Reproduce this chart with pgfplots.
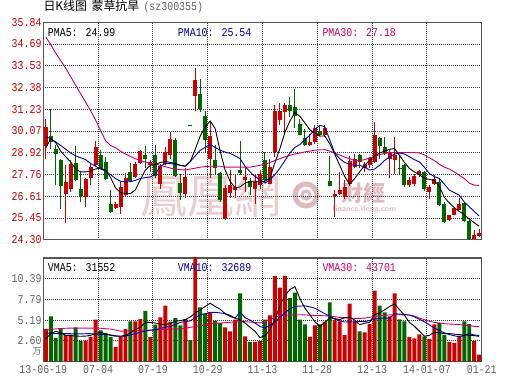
\documentclass[border=0pt]{standalone}
\usepackage{pgfplots}
\pgfplotsset{compat=1.18}
\usepackage{pgfplotstable}
\usepackage{fontspec}
\newfontfamily\mono[FakeStretch=0.83]{Liberation Mono}
\newfontfamily\cjk{Noto Sans CJK SC}
\newcommand\lab{\mono\fontsize{12}{12}\selectfont}
\definecolor{kred}{RGB}{204,0,0}
\definecolor{kgreen}{RGB}{0,102,0}
\definecolor{kblue}{RGB}{0,0,170}
\definecolor{kmag}{RGB}{204,0,102}
\definecolor{kgray}{RGB}{100,100,100}
\definecolor{kframe}{RGB}{85,85,85}
\definecolor{wm}{RGB}{232,206,206}
\definecolor{wm2}{RGB}{224,186,186}

% up (red) candles: index open high low close
\pgfplotstableread{
i O H L C
0 29.30 30.70 28.60 30.30
4 26.73 28.25 25.16 27.37
5 27.00 28.52 26.84 28.34
8 26.54 27.60 26.04 27.51
9 27.55 28.34 27.19 28.15
10 28.29 29.53 28.22 29.23
14 25.99 26.31 25.95 26.20
15 26.01 27.37 25.69 27.10
16 26.66 27.85 26.57 27.55
18 27.65 28.43 27.58 28.34
19 28.39 29.08 28.34 29.00
21 28.25 28.52 27.90 28.43
23 27.28 28.34 27.00 28.22
24 28.34 29.23 28.25 28.96
25 28.78 30.02 28.61 29.63
28 26.75 28.08 26.49 27.63
30 31.93 33.42 31.12 32.80
33 28.61 30.55 27.55 29.80
36 25.42 27.19 25.33 27.07
37 26.80 27.99 26.49 27.19
38 26.96 27.72 26.49 27.10
40 27.46 28.08 26.84 27.63
42 27.01 27.81 26.22 27.37
43 27.19 27.99 27.00 27.81
45 27.28 28.61 27.25 28.17
46 28.96 31.47 28.70 31.12
47 30.64 31.53 30.38 31.12
48 31.08 31.53 29.85 31.47
53 29.35 29.93 29.28 29.49
54 29.46 30.41 29.40 30.23
56 29.85 30.41 29.75 30.23
58 26.63 26.93 25.51 26.75
59 26.75 27.90 26.66 26.93
60 26.57 27.46 26.48 27.10
61 27.23 28.75 27.16 28.50
62 28.17 28.87 28.08 28.61
64 28.09 28.40 27.90 28.30
65 28.27 28.70 28.10 28.62
66 28.43 30.55 28.39 29.84
69 28.61 29.05 27.55 28.91
70 28.52 29.76 27.81 28.78
73 27.19 27.63 27.10 27.46
74 27.23 27.81 27.16 27.69
75 27.72 27.99 27.63 27.93
77 26.84 27.19 26.48 27.10
78 27.23 27.76 27.19 27.51
81 25.34 25.63 25.28 25.60
82 25.63 26.04 25.60 25.99
83 25.87 26.52 25.87 26.17
86 24.36 24.81 24.33 24.54
87 24.50 24.86 24.46 24.68
}\upc

% down (green) candles
\pgfplotstableread{
i O H L C
1 29.79 31.22 29.14 29.46
2 29.14 29.31 27.19 28.87
3 28.55 28.61 25.95 27.16
6 28.38 29.28 27.40 27.49
7 27.01 27.90 26.31 26.61
11 28.78 29.05 28.08 28.08
12 28.43 28.70 27.46 27.51
13 26.17 26.93 25.74 25.78
17 27.90 28.39 27.37 27.40
20 28.82 29.28 28.08 28.61
22 28.82 29.35 27.60 27.70
26 29.58 29.70 27.63 27.69
27 27.30 27.81 26.40 26.80
29 30.40 30.40 30.36 30.36
31 32.06 32.82 31.08 31.23
32 30.87 31.12 28.96 29.58
34 28.52 29.35 27.72 28.13
35 27.85 27.90 26.31 26.40
39 28.02 29.53 27.72 27.86
41 27.40 27.55 26.66 27.10
44 28.52 28.96 27.40 27.46
49 31.47 31.88 30.82 31.12
50 31.35 32.32 30.23 30.85
51 30.46 30.73 29.85 29.88
52 29.70 30.20 29.28 29.35
55 30.06 30.38 29.81 29.85
57 27.40 28.75 27.13 27.16
63 28.82 28.87 28.08 28.43
67 29.70 29.76 28.61 29.28
68 29.23 29.76 28.78 28.87
71 28.13 28.78 27.81 28.07
72 28.25 28.34 27.10 27.19
76 27.90 27.95 26.90 26.98
79 27.37 27.58 26.10 26.13
80 26.22 26.31 25.21 25.25
84 26.27 26.31 25.25 25.28
85 25.30 25.34 24.27 24.36
}\dnc

% price moving averages
\pgfplotstableread{
i m5 m10 m30
0 29.17 29.76 35.06
1 29.67 29.67 34.65
2 29.45 29.49 34.20
3 29.00 29.30 33.80
4 28.70 29.10 33.40
5 28.43 28.90 32.95
6 28.05 28.75 32.50
7 27.90 28.65 32.05
8 27.90 28.55 31.60
9 27.95 28.35 31.15
10 28.05 28.20 30.65
11 28.10 28.05 30.10
12 28.00 27.95 29.55
13 27.60 27.75 29.30
14 27.05 27.55 29.18
15 26.80 27.40 29.00
16 26.75 27.37 28.85
17 26.75 27.38 28.72
18 26.95 27.45 28.60
19 27.50 27.55 28.50
20 28.00 27.60 28.42
21 28.25 27.63 28.36
22 28.30 27.80 28.32
23 28.40 28.20 28.25
24 28.45 28.34 28.18
25 28.40 28.34 28.10
26 28.35 28.30 28.05
27 28.25 28.25 28.02
28 28.20 28.20 28.00
29 28.45 28.45 28.05
30 29.10 28.75 28.10
31 29.80 29.05 28.15
32 30.30 29.20 28.18
33 30.60 29.35 28.20
34 30.20 29.20 28.20
35 29.00 29.05 28.20
36 28.00 28.95 28.15
37 27.40 28.88 28.15
38 27.05 28.75 28.15
39 27.10 28.60 28.15
40 27.30 28.20 28.15
41 27.40 27.90 28.15
42 27.40 27.65 28.20
43 27.35 27.50 28.25
44 27.40 27.30 28.30
45 27.58 27.50 28.40
46 28.39 27.75 28.50
47 29.14 28.10 28.60
48 30.00 28.50 28.70
49 30.60 28.90 28.78
50 31.05 29.20 28.85
51 30.85 29.35 28.90
52 30.50 29.60 28.96
53 30.14 29.85 29.00
54 29.96 30.15 29.05
55 29.80 30.37 29.07
56 29.81 30.30 29.08
57 29.39 29.60 29.00
58 28.84 28.90 28.90
59 28.25 28.60 28.80
60 27.65 28.40 28.68
61 27.25 28.30 28.60
62 27.55 28.25 28.50
63 27.90 28.25 28.50
64 28.25 28.15 28.55
65 28.50 28.00 28.65
66 28.75 28.05 28.70
67 28.90 28.25 28.82
68 29.00 28.50 28.88
69 29.10 28.70 28.93
70 29.14 28.85 28.93
71 28.78 28.90 28.93
72 28.40 28.85 28.93
73 28.08 28.70 28.93
74 27.90 28.55 28.93
75 27.75 28.43 28.90
76 27.55 28.15 28.80
77 27.50 27.81 28.65
78 27.44 27.65 28.50
79 27.13 27.55 28.30
80 26.55 27.25 28.15
81 26.25 26.93 28.05
82 26.00 26.80 27.90
83 25.80 26.66 27.72
84 25.62 26.30 27.55
85 25.40 26.05 27.30
86 25.20 25.80 27.20
87 25.01 25.55 27.18
}\pma

% volume (10k lots): up days and down days
\pgfplotstableread{
i v
0 4.09
4 3.31
5 3.39
8 2.64
9 3.10
10 5.25
14 1.86
15 3.10
16 4.09
18 5.04
19 5.33
21 3.06
23 5.54
24 7.02
25 5.00
28 5.33
30 15.00
33 6.16
36 4.30
37 3.80
38 5.25
40 3.18
42 2.48
43 2.56
45 5.79
46 10.74
47 9.26
48 10.74
53 3.10
54 4.55
56 5.00
58 5.25
59 5.04
60 3.31
61 7.27
62 5.00
64 3.68
65 4.71
66 8.88
69 5.66
70 8.55
73 3.10
74 2.93
75 3.43
77 2.85
78 4.67
81 2.48
82 2.36
83 3.26
86 2.60
87 0.87
}\volup
\pgfplotstableread{
i v
1 5.66
2 2.98
3 4.09
6 4.30
7 2.56
11 3.93
12 3.60
13 3.10
17 5.04
20 6.36
22 4.63
26 5.45
27 4.55
29 2.69
31 6.78
32 5.99
34 5.12
35 4.83
39 8.55
41 2.48
44 5.25
49 7.93
50 8.64
51 5.25
52 4.67
55 4.67
57 7.40
63 3.80
67 7.02
68 6.16
71 5.29
72 5.04
76 3.18
79 4.83
80 3.31
84 5.04
85 4.71
}\voldn

% volume moving averages
\pgfplotstableread{
i v5 v10 v30
0 2.85 3.60 3.93
1 3.50 3.55 4.05
2 3.80 3.50 4.10
3 3.60 3.50 4.15
4 3.30 3.52 4.18
5 3.26 3.50 4.20
6 3.20 3.47 4.20
7 3.18 3.47 4.20
8 3.20 3.50 4.20
9 3.30 3.50 4.20
10 3.50 3.45 4.20
11 3.68 3.42 4.18
12 3.45 3.39 4.12
13 3.30 3.35 4.08
14 3.18 3.25 3.95
15 3.18 3.18 3.82
16 3.30 3.20 3.80
17 3.60 3.35 3.90
18 4.00 3.50 3.93
19 4.34 3.68 3.93
20 4.92 3.85 3.93
21 4.90 3.95 3.93
22 4.83 4.00 3.95
23 4.70 4.15 4.00
24 4.63 4.30 4.05
25 4.80 4.42 4.09
26 5.04 4.65 4.09
27 5.15 4.90 4.10
28 5.25 5.04 4.15
29 5.60 5.10 4.30
30 6.07 5.50 4.40
31 6.50 5.87 4.50
32 6.90 6.00 4.60
33 7.31 6.16 4.70
34 6.90 6.16 4.80
35 6.57 6.10 4.83
36 6.00 6.00 4.88
37 5.66 5.80 4.92
38 5.45 5.45 4.96
39 5.20 6.20 5.00
40 4.83 5.50 5.00
41 4.30 5.20 4.95
42 3.80 4.83 4.90
43 3.00 4.40 4.85
44 3.26 4.20 5.00
45 4.00 4.55 5.30
46 5.25 5.00 5.55
47 7.00 5.58 5.74
48 8.30 6.10 5.80
49 9.00 6.60 5.85
50 9.38 6.90 5.87
51 7.90 6.95 5.87
52 6.70 6.98 5.85
53 5.87 6.85 5.80
54 5.00 6.69 5.78
55 4.42 6.35 5.76
56 4.90 5.99 5.74
57 5.45 5.70 5.70
58 5.40 5.33 5.62
59 5.25 5.10 5.54
60 5.50 4.96 5.50
61 5.54 4.98 5.45
62 5.20 5.00 5.42
63 4.63 5.00 5.41
64 4.80 5.00 5.45
65 4.92 5.15 5.55
66 5.87 5.33 5.66
67 6.10 5.40 5.75
68 6.49 5.45 5.80
69 6.90 5.45 5.85
70 7.23 6.00 5.87
71 6.50 5.95 5.87
72 5.80 5.90 5.85
73 4.90 5.83 5.83
74 4.42 5.60 5.70
75 3.80 5.30 5.45
76 3.18 5.00 5.25
77 3.30 4.60 5.05
78 3.68 4.20 4.92
79 3.60 3.90 4.85
80 3.51 3.60 4.75
81 3.51 3.39 4.71
82 3.45 3.25 4.68
83 3.39 3.10 4.63
84 3.30 3.30 4.58
85 3.30 3.50 4.50
86 3.26 3.35 4.42
87 3.16 3.27 4.37
}\vma

\pgfplotsset{
  kaxis/.style={
    scale only axis, width=438.4bp,
    xmin=0, xmax=88,
    axis line style={draw=kframe, line width=1.2bp},
    tick style={draw=none}, major tick length=0pt,
    xmajorgrids, ymajorgrids,
    grid style={draw=black!75, line width=0.9bp, dash pattern=on 1bp off 1bp},
    xtick={0,11,...,88},
    yticklabel style={font=\lab, anchor=east, inner sep=0pt, xshift=-1.6bp},
  },
  wick/.style={draw=none, mark=none, forget plot,
    error bars/.cd, y dir=plus, y explicit, error mark=none,
    error bar style={line width=1bp, draw=#1, solid}},
  body/.style={draw=none, mark=none, forget plot,
    error bars/.cd, y dir=plus, y explicit, error mark=none,
    error bar style={line width=4bp, draw=#1, solid}},
}

\begin{document}
\begin{tikzpicture}
\useasboundingbox (0bp,0bp) rectangle (530bp,391bp);

% watermark
\node[text=wm, inner sep=0pt] at (211bp,195bp) {\cjk\fontsize{47}{47}\selectfont 鳳凰網};
\draw[wm2, line width=5bp] (306bp,196bp) circle (11bp);
\draw[wm2, line width=3bp] (306bp,196bp) circle (4bp);
\node[text=wm2, inner sep=0pt] at (363.5bp,197.5bp) {\cjk\bfseries\fontsize{22}{22}\selectfont 財經};
\node[text=wm2, inner sep=0pt] at (364.5bp,181bp) {\sffamily\bfseries\fontsize{8}{8}\selectfont finance.ifeng.com};

% price panel
\begin{axis}[kaxis, at={(43.3bp,151.3bp)}, anchor=south west, height=217.4bp,
  ymin=24.30, ymax=35.84,
  ytick={24.30,25.45,26.61,27.76,28.92,30.07,31.23,32.38,33.53,34.69,35.84},
  yticklabels={24.30,25.45,26.61,27.76,28.92,30.07,31.23,32.38,33.53,34.69,35.84},
  yticklabel style={text=kred},
  xticklabels={},
]
\addplot[wick=kred] table[x expr=\thisrow{i}+0.5, y=L, y error expr=\thisrow{H}-\thisrow{L}] \upc;
\addplot[body=kred] table[x expr=\thisrow{i}+0.5, y=O, y error expr=\thisrow{C}-\thisrow{O}] \upc;
\addplot[wick=kgreen] table[x expr=\thisrow{i}+0.5, y=L, y error expr=\thisrow{H}-\thisrow{L}] \dnc;
\addplot[body=kgreen] table[x expr=\thisrow{i}+0.5, y=C, y error expr=\thisrow{O}-\thisrow{C}] \dnc;
\addplot[kmag, line width=0.9bp, mark=none] table[x expr=\thisrow{i}+0.5, y=m30] \pma;
\addplot[kblue, line width=0.9bp, mark=none] table[x expr=\thisrow{i}+0.5, y=m10] \pma;
\addplot[black, line width=0.9bp, mark=none] table[x expr=\thisrow{i}+0.5, y=m5] \pma;
\end{axis}

% volume panel
\begin{axis}[kaxis, at={(43.3bp,29.3bp)}, anchor=south west, height=103.7bp,
  ymin=0, ymax=12.96,
  ytick={2.60,5.19,7.79,10.39},
  yticklabels={2.60,5.19,7.79,10.39},
  yticklabel style={text=kgray},
  extra y ticks={1.25}, extra y tick labels={\cjk\fontsize{9}{9}\selectfont 万},
  extra y tick style={grid=none},
  xticklabels={13-06-19,07-04,07-19,10-29,11-13,11-28,12-13,14-01-07,01-21},
  xticklabel style={font=\lab, text=kgray, anchor=base, inner sep=0pt, yshift=-12.3bp},
]
\addplot[ybar, bar width=0.8, bar shift=0pt, fill=kred, draw=none, forget plot] table[x expr=\thisrow{i}+0.5, y=v] \volup;
\addplot[ybar, bar width=0.8, bar shift=0pt, fill=kgreen, draw=none, forget plot] table[x expr=\thisrow{i}+0.5, y=v] \voldn;
\addplot[kmag, line width=0.9bp, mark=none] table[x expr=\thisrow{i}+0.5, y=v30] \vma;
\addplot[kblue, line width=0.9bp, mark=none] table[x expr=\thisrow{i}+0.5, y=v10] \vma;
\addplot[black, line width=0.9bp, mark=none] table[x expr=\thisrow{i}+0.5, y=v5] \vma;
\end{axis}

% title
\node[anchor=base west, inner sep=0pt] at (43.3bp,380.3bp) {\cjk\fontsize{12}{12}\selectfont 日K线图\hspace{4.5bp}蒙草抗旱};
\node[anchor=base west, inner sep=0pt, text=kgray] at (143.3bp,380.3bp) {\lab (sz300355)};

% legends
\node[anchor=base west, inner sep=0pt] at (47.7bp,354.6bp) {\lab PMA5: 24.99};
\node[anchor=base west, inner sep=0pt, text=kblue] at (177.7bp,354.6bp) {\lab PMA10: 25.54};
\node[anchor=base west, inner sep=0pt, text=kmag] at (322.3bp,354.6bp) {\lab PMA30: 27.18};
\node[anchor=base west, inner sep=0pt] at (47.7bp,119.5bp) {\lab VMA5: 31552};
\node[anchor=base west, inner sep=0pt, text=kblue] at (177.7bp,119.5bp) {\lab VMA10: 32689};
\node[anchor=base west, inner sep=0pt, text=kmag] at (322.3bp,119.5bp) {\lab VMA30: 43701};
\end{tikzpicture}
\end{document}
